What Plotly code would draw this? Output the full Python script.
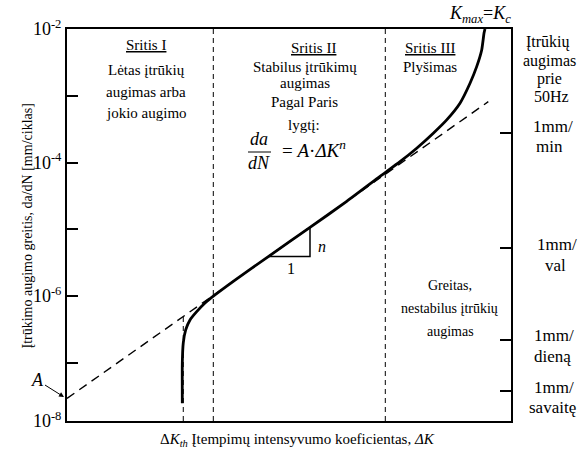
import plotly.graph_objects as go

# plot frame in pixels (585 x 452 page)
W, H = 585, 452
L, R, T, B = 67, 511, 29, 421
Y_LOW = -7.87  # log10 of da/dN at bottom edge

# crack growth curve: x = position along (log) dK axis 0..100, y = da/dN [mm/ciklas]
curve_x = [25.97, 25.97, 26.19, 26.73, 27.70, 29.21, 31.08, 32.95, 37.84, 45.34,
           54.73, 63.00, 70.50, 75.00, 78.76, 82.50, 85.52, 88.51, 90.77, 92.27,
           93.40, 93.92, 94.14]
curve_y = [2.49e-8, 1.0e-7, 2.0e-7, 3.12e-7, 4.4e-7, 5.86e-7, 7.9e-7, 1.0e-6,
           1.74e-6, 3.91e-6, 1.07e-5, 2.62e-5, 6.2e-5, 1.03e-4, 1.64e-4, 2.75e-4,
           4.35e-4, 7.73e-4, 1.54e-3, 2.73e-3, 4.85e-3, 8.63e-3, 1.0e-2]

# Paris law extrapolation (dashed)
paris_x = [0.0, 94.89]
paris_y = [2.94e-8, 8.17e-4]

# slope triangle
tri_x = [45.34, 54.73, 54.73, 45.34]
tri_y = [3.91e-6, 1.07e-5, 3.91e-6, 3.91e-6]

# region borders and threshold
dkth_x = 26.19
dkth_top = 4.89e-7
region_x = [32.95, 71.69]

# left axis ticks
left_ticks = [1e-2, 1e-3, 1e-4, 1e-5, 1e-6, 1e-7, 10 ** Y_LOW]
left_text = ["10<sup>-2</sup>", "", "10<sup>-4</sup>", "", "10<sup>-6</sup>", "", "10<sup>-8</sup>"]

# right axis: growth rates at 50 Hz
rate_vals = [2.77e-4, 5.27e-6, 2.21e-7, 3.81e-8]

FONT = "Liberation Serif"


def paper(px, py):
    return (px - L) / (R - L), (B - py) / (B - T)


fig = go.Figure()

black = "black"
fig.add_trace(go.Scatter(x=paris_x, y=paris_y, mode="lines",
                         line=dict(color=black, width=1.4, dash="9px,6px")))
for xv in region_x:
    fig.add_trace(go.Scatter(x=[xv, xv], y=[10 ** Y_LOW, 1e-2], mode="lines",
                             line=dict(color=black, width=1, dash="5px,4px")))
fig.add_trace(go.Scatter(x=[dkth_x, dkth_x], y=[10 ** Y_LOW, dkth_top], mode="lines",
                         line=dict(color=black, width=1, dash="5px,4px")))
fig.add_trace(go.Scatter(x=curve_x, y=curve_y, mode="lines",
                         line=dict(color=black, width=2.8, shape="spline", smoothing=0.5)))
fig.add_trace(go.Scatter(x=tri_x, y=tri_y, mode="lines",
                         line=dict(color=black, width=1.5)))
# dummy trace for the right axis
fig.add_trace(go.Scatter(x=[50], y=[1e-5], yaxis="y2", mode="markers",
                         marker=dict(opacity=0), hoverinfo="skip"))

texts = [
    ("<u>Sritis I</u>", 146, 45, 15),
    ("Lėtas įtrūkių", 146, 70, 15),
    ("augimas arba", 146, 92, 15),
    ("jokio augimo", 146, 113, 15),
    ("<u>Sritis II</u>", 313, 48, 15),
    ("Stabilus įtrūkimų", 305, 67, 15),
    ("augimas", 305, 83, 15),
    ("Pagal Paris", 304, 102, 15),
    ("lygtį:", 304, 125, 15),
    ("<u>Sritis III</u>", 430, 48, 15),
    ("Plyšimas", 430, 67, 15),
    ("Greitas,", 450, 285, 14),
    ("nestabilus įtrūkių", 449, 308, 14),
    ("augimas", 450, 331, 14),
    ("Įtrūkių", 548, 42, 16),
    ("augimas", 549, 61, 16),
    ("prie", 549, 79, 16),
    ("50Hz", 551, 97, 16),
    ("1mm/", 553, 126, 17),
    ("min", 549, 147, 17),
    ("1mm/", 557, 245, 17),
    ("val", 555, 265, 17),
    ("1mm/", 554, 335, 17),
    ("dieną", 552, 356, 17),
    ("1mm/", 554, 387, 17),
    ("savaitę", 552, 407, 17),
    ("<i>K</i><sub><i>max</i></sub>=<i>K</i><sub><i>c</i></sub>", 480, 14, 18),
    ("<i>da</i>", 259, 139, 18),
    ("<i>dN</i>", 259, 163, 18),
    ("= <i>A</i>·<i>ΔK</i><sup><i>n</i></sup>", 314, 149, 19),
    ("<i>n</i>", 322, 246, 16),
    ("1", 291, 268, 16),
    ("Δ<i>K</i><sub><i>th</i></sub> Įtempimų intensyvumo koeficientas, <i>ΔK</i>", 297, 440, 15),
]
for txt, px, py, size in texts:
    xp, yp = paper(px, py)
    fig.add_annotation(x=xp, y=yp, xref="paper", yref="paper", text=txt, showarrow=False,
                       xanchor="center", yanchor="middle",
                       font=dict(family=FONT, size=size, color=black))

# y axis title
xp, yp = paper(17, 226)
fig.add_annotation(x=xp, y=yp, xref="paper", yref="paper", showarrow=False, textangle=-90,
                   text="Įtrūkimo augimo greitis, da/dN [mm/ciklas]",
                   font=dict(family=FONT, size=14, color=black))

# A with arrow
xp, yp = paper(64, 397)
fig.add_annotation(x=xp, y=yp, xref="paper", yref="paper", text="<i>A</i>",
                   showarrow=True, ax=-27, ay=-17, arrowhead=2, arrowsize=1, arrowwidth=1,
                   arrowcolor=black, font=dict(family=FONT, size=18, color=black))

# fraction bar
x0, y0 = paper(248, 152)
x1, _ = paper(271, 152)
fig.add_shape(type="line", xref="paper", yref="paper", x0=x0, x1=x1, y0=y0, y1=y0,
              line=dict(color=black, width=1))

fig.update_layout(
    width=W, height=H,
    margin=dict(l=L, r=W - R, t=T, b=H - B),
    paper_bgcolor="white", plot_bgcolor="white",
    showlegend=False,
    font=dict(family=FONT, color=black),
    xaxis=dict(range=[0, 100], showgrid=False, zeroline=False, showticklabels=False,
               ticks="", showline=True, linecolor=black, linewidth=2, mirror=True),
    yaxis=dict(type="log", range=[Y_LOW, -2], showgrid=False, zeroline=False,
               tickmode="array", tickvals=left_ticks, ticktext=left_text,
               ticks="inside", ticklen=11, tickwidth=1.5, tickcolor=black,
               tickfont=dict(family=FONT, size=18, color=black),
               showline=True, linecolor=black, linewidth=2, mirror=True),
    yaxis2=dict(type="log", range=[Y_LOW, -2], overlaying="y", side="right",
                showgrid=False, zeroline=False, tickmode="array", tickvals=rate_vals,
                showticklabels=False, ticks="inside", ticklen=11, tickwidth=1.5,
                tickcolor=black, showline=False),
)

# drop the default page margin so the figure sits at the window origin
fig.write_html("out.html", config={"displayModeBar": False},
               post_script="document.body.style.margin='0';")
